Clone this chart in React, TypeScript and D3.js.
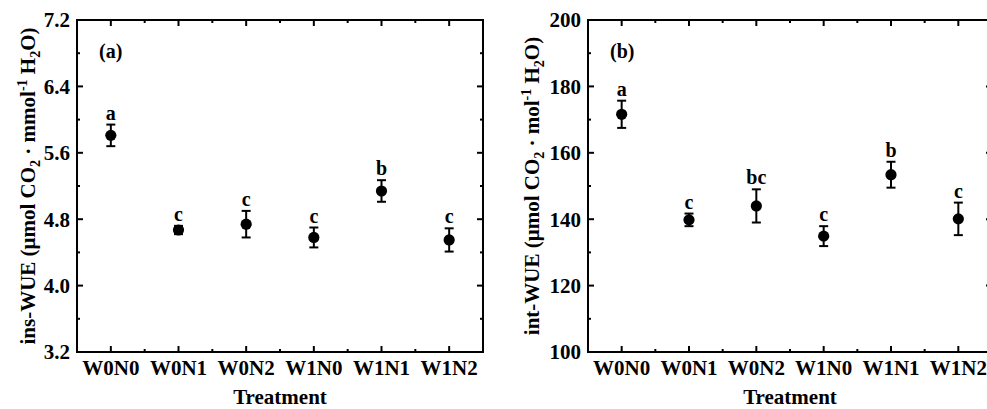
import React from "react";
import * as d3 from "d3";

const treatments = ["W0N0", "W0N1", "W0N2", "W1N0", "W1N1", "W1N2"];

const insMean = [5.81, 4.67, 4.74, 4.58, 5.14, 4.55];
const insErr = [0.13, 0.05, 0.16, 0.12, 0.13, 0.14];
const insLetters = ["a", "c", "c", "c", "b", "c"];
const insTicks = [3.2, 4.0, 4.8, 5.6, 6.4, 7.2];

const intMean = [171.6, 139.8, 144.0, 134.9, 153.4, 140.1];
const intErr = [4.1, 1.9, 5.0, 3.0, 3.9, 4.9];
const intLetters = ["a", "c", "bc", "c", "b", "c"];
const intTicks = [100, 120, 140, 160, 180, 200];

const FONT = "'Liberation Serif', 'Times New Roman', serif";

type PanelProps = {
  left: number;
  right: number;
  means: number[];
  errs: number[];
  letters: string[];
  ticks: number[];
  fmt: (v: number) => string;
  tag: string;
  titleStart: string;
  titleMid: string;
  titleX: number;
};

const Panel = ({ left, right, means, errs, letters, ticks, fmt, tag, titleStart, titleMid, titleX }: PanelProps) => {
  const top = 20;
  const bottom = 352;

  const x = d3.scaleBand<string>().domain(treatments).range([left, right]);
  const cx = (t: string) => (x(t) ?? 0) + x.bandwidth() / 2;
  const y = d3
    .scaleLinear()
    .domain([ticks[0], ticks[ticks.length - 1]])
    .range([bottom, top]);

  // minor ticks halfway between the labelled ones
  const minorY = ticks.slice(0, -1).map((t, i) => (t + ticks[i + 1]) / 2);
  const minorX = treatments.slice(1).map((t) => x(t) ?? 0);

  return (
    <g style={{ fontFamily: FONT, fontWeight: "bold" }}>
      {/* frame */}
      <rect x={left} y={top} width={right - left} height={bottom - top} fill="none" stroke="black" strokeWidth={2} />

      {/* y ticks, left and right */}
      {ticks.map((t) => (
        <g key={t}>
          <line x1={left} x2={left + 6} y1={y(t)} y2={y(t)} stroke="black" strokeWidth={2} />
          <line x1={right} x2={right - 6} y1={y(t)} y2={y(t)} stroke="black" strokeWidth={2} />
          <text x={left - 7} y={y(t)} dy="0.35em" textAnchor="end" fontSize={21}>
            {fmt(t)}
          </text>
        </g>
      ))}
      {minorY.map((t) => (
        <g key={"m" + t}>
          <line x1={left} x2={left + 3} y1={y(t)} y2={y(t)} stroke="black" strokeWidth={2} />
          <line x1={right} x2={right - 3} y1={y(t)} y2={y(t)} stroke="black" strokeWidth={2} />
        </g>
      ))}

      {/* x ticks, bottom and top */}
      {treatments.map((t) => (
        <g key={t}>
          <line x1={cx(t)} x2={cx(t)} y1={bottom} y2={bottom - 6} stroke="black" strokeWidth={2} />
          <line x1={cx(t)} x2={cx(t)} y1={top} y2={top + 6} stroke="black" strokeWidth={2} />
          <text x={cx(t)} y={375} textAnchor="middle" fontSize={21}>
            {t}
          </text>
        </g>
      ))}
      {minorX.map((p) => (
        <g key={"mx" + p}>
          <line x1={p} x2={p} y1={bottom} y2={bottom - 3} stroke="black" strokeWidth={2} />
          <line x1={p} x2={p} y1={top} y2={top + 3} stroke="black" strokeWidth={2} />
        </g>
      ))}

      {/* points with error bars */}
      {treatments.map((t, i) => {
        const hi = y(means[i] + errs[i]);
        const lo = y(means[i] - errs[i]);
        return (
          <g key={"p" + t}>
            <line x1={cx(t)} x2={cx(t)} y1={hi} y2={lo} stroke="black" strokeWidth={2} />
            <line x1={cx(t) - 4.5} x2={cx(t) + 4.5} y1={hi} y2={hi} stroke="black" strokeWidth={2} />
            <line x1={cx(t) - 4.5} x2={cx(t) + 4.5} y1={lo} y2={lo} stroke="black" strokeWidth={2} />
            <circle cx={cx(t)} cy={y(means[i])} r={5.6} fill="black" />
            <text x={cx(t)} y={hi - 5} textAnchor="middle" fontSize={20}>
              {letters[i]}
            </text>
          </g>
        );
      })}

      <text x={left + 22} y={58} fontSize={20}>
        {tag}
      </text>

      <text x={(left + right) / 2} y={404} textAnchor="middle" fontSize={21}>
        Treatment
      </text>

      <text
        transform={`translate(${titleX}, ${(top + bottom) / 2}) rotate(-90)`}
        textAnchor="middle"
        fontSize={21}
      >
        <tspan>{titleStart}</tspan>
        <tspan fontSize={14} dy={5}>2</tspan>
        <tspan dy={-5}>{titleMid}</tspan>
        <tspan fontSize={14} dy={-8}>-1</tspan>
        <tspan dy={8}> H</tspan>
        <tspan fontSize={14} dy={5}>2</tspan>
        <tspan dy={-5}>O)</tspan>
      </text>
    </g>
  );
};

const App = () => {
  return (
    <div style={{ position: "fixed", left: 0, top: 0, width: 987, height: 409, background: "white" }}>
      <svg width={987} height={409}>
        <rect width={987} height={409} fill="white" />
        <Panel
          left={77}
          right={483}
          means={insMean}
          errs={insErr}
          letters={insLetters}
          ticks={insTicks}
          fmt={(v) => v.toFixed(1)}
          tag="(a)"
          titleStart="ins-WUE (μmol CO"
          titleMid=" · mmol"
          titleX={35}
        />
        <Panel
          left={588}
          right={992}
          means={intMean}
          errs={intErr}
          letters={intLetters}
          ticks={intTicks}
          fmt={(v) => String(v)}
          tag="(b)"
          titleStart="int-WUE (μmol CO"
          titleMid=" · mol"
          titleX={539}
        />
      </svg>
    </div>
  );
};

export default App;
